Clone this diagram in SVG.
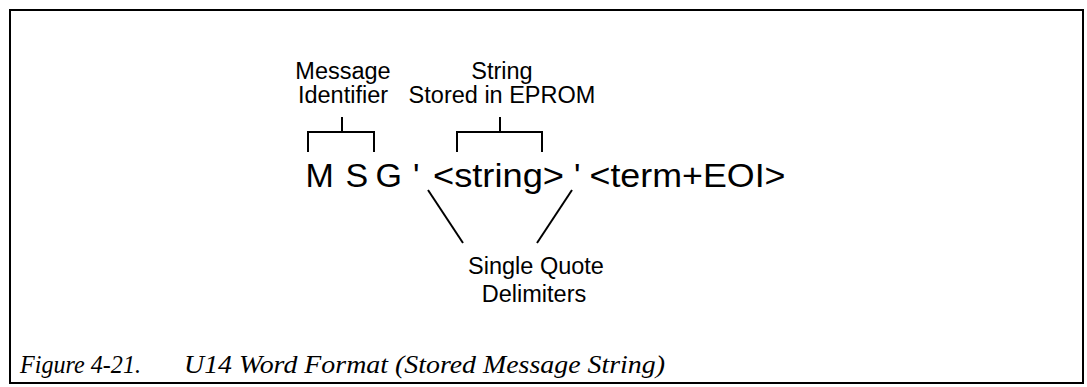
<svg xmlns="http://www.w3.org/2000/svg" width="1087" height="387" viewBox="0 0 1087 387">
  <style>
    .lbl { font-family: "Liberation Sans", Arial, sans-serif; font-size: 23.5px; fill: #000; }
    .main { font-family: "Liberation Sans", Arial, sans-serif; font-size: 34px; fill: #000; }
    .cap { font-family: "Liberation Serif", "Times New Roman", serif; font-style: italic; font-size: 25px; fill: #000; }
    .ln { stroke: #000; stroke-width: 2; fill: none; }
  </style>
  <rect x="0" y="0" width="1087" height="387" fill="#fff"/>
  <rect id="frame" x="10" y="10" width="1073" height="373" fill="none" stroke="#000" stroke-width="2"/>

  <g id="label-msg-id">
    <text class="lbl" x="343" y="79" text-anchor="middle">Message</text>
    <text class="lbl" x="343" y="103" text-anchor="middle">Identifier</text>
  </g>
  <g id="label-string">
    <text class="lbl" x="502" y="79" text-anchor="middle">String</text>
    <text class="lbl" x="502" y="103" text-anchor="middle">Stored in EPROM</text>
  </g>
  <g id="main-text">
    <text class="main" x="305.5" y="187">M</text>
    <text class="main" x="345.5" y="187">S</text>
    <text class="main" x="375.5" y="187">G</text>
    <text class="main" x="413" y="187">'</text>
    <text class="main" x="433" y="187" textLength="131" lengthAdjust="spacingAndGlyphs">&lt;string&gt;</text>
    <text class="main" x="574" y="187">'</text>
    <text class="main" x="589.5" y="187" textLength="196" lengthAdjust="spacingAndGlyphs">&lt;term+EOI&gt;</text>
  </g>
  <g id="label-delims">
    <text class="lbl" x="536" y="274" text-anchor="middle">Single Quote</text>
    <text class="lbl" x="534" y="302" text-anchor="middle">Delimiters</text>
  </g>

  <g id="connectors">
    <path class="ln" d="M342 117 V132 M308 152 V132 H374 V152"/>
    <path class="ln" d="M500 117 V132 M457 152 V132 H542 V152"/>
    <path class="ln" d="M428 190 L463 243"/>
    <path class="ln" d="M572 190 L537 243"/>
  </g>

  <g id="caption">
    <text class="cap" x="20" y="373" textLength="121" lengthAdjust="spacingAndGlyphs">Figure 4-21.</text>
    <text class="cap" x="184" y="373" textLength="481" lengthAdjust="spacingAndGlyphs">U14 Word Format (Stored Message String)</text>
  </g>
</svg>
